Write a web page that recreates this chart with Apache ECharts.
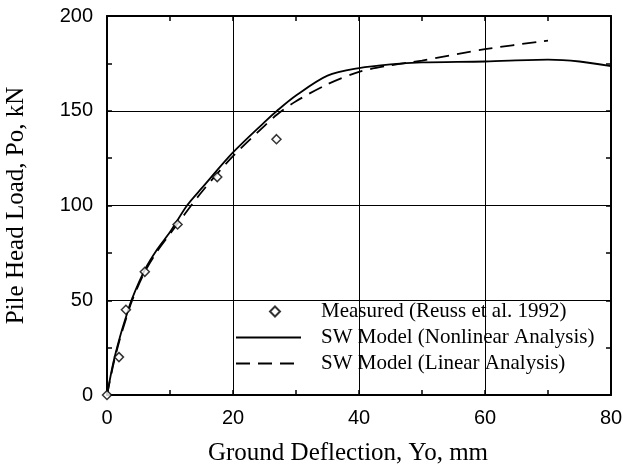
<!DOCTYPE html>
<html>
<head>
<meta charset="utf-8">
<script src="https://cdn.jsdelivr.net/npm/echarts@6/dist/echarts.min.js"></script>
<style>
  html, body { margin: 0; padding: 0; background: #fff; }
  #chart { width: 623px; height: 471px; }
</style>
</head>
<body>
<div id="chart"></div>
<script>
// measured points (Yo mm, Po kN)
var measuredX = [0, 1.9, 3.0, 6.0, 11.2, 17.5, 26.9];
var measuredY = [0, 20, 45, 65, 90, 115, 135];

// SW model, nonlinear analysis
var nonlinX = [0, 1, 2, 3, 4, 6, 8, 10, 12.7, 15, 20, 25, 27, 30, 35, 40, 45, 50, 60, 70, 75, 80];
var nonlinY = [0, 17, 30, 41, 51, 66, 77, 86, 100, 109, 128, 144, 150, 158, 168.5, 172.5, 174.5, 175.5, 176, 177, 176, 173.5];

// SW model, linear analysis
var linX = [0, 1, 2, 3, 4, 6, 8, 10, 15, 20, 25, 27, 30, 35, 40, 45, 48, 50, 60, 70];
var linY = [0, 16, 29, 40, 50, 65, 76, 85, 107, 126, 142, 148, 155, 164, 170.5, 174, 175.5, 176.5, 182.5, 187];

var zip = function (xs, ys) {
    return xs.map(function (x, i) { return [x, ys[i]]; });
};

var serif = 'Liberation Serif';
var sans = 'Liberation Sans';

var chart = echarts.init(document.getElementById('chart'));

// frame axes on top / right: ticks only
var frameAxis = function (pos, max, interval) {
    return {
        type: 'value',
        position: pos,
        min: 0,
        max: max,
        interval: interval,
        axisLine: {show: true, onZero: false, lineStyle: {color: '#000', width: 2}},
        axisTick: {show: true, inside: true, length: 5, lineStyle: {color: '#000', width: 1.5}},
        minorTick: {show: true, splitNumber: 2, length: 5, lineStyle: {color: '#000', width: 1.5}},
        axisLabel: {show: false},
        splitLine: {show: false}
    };
};

chart.setOption({
    backgroundColor: '#fff',
    animation: false,
    grid: {left: 107, right: 12, top: 16, bottom: 76, containLabel: false, outerBoundsMode: 'none'},
    legend: {
        orient: 'vertical',
        left: 230,
        top: 296,
        itemWidth: 65,
        itemHeight: 14,
        itemGap: 5,
        textStyle: {fontFamily: serif, fontSize: 21, color: '#000', padding: [0, 0, 0, 15]},
        data: [
            {name: 'Measured (Reuss et al. 1992)', icon: 'path://M0,0M65,14M39,2L44,7L39,12L34,7Z'},
            {name: 'SW Model (Nonlinear Analysis)', itemStyle: {opacity: 0}},
            {name: 'SW Model (Linear Analysis)', itemStyle: {opacity: 0}}
        ]
    },
    xAxis: [{
        type: 'value',
        min: 0,
        max: 80,
        interval: 20,
        name: 'Ground Deflection, Yo, mm',
        nameLocation: 'middle',
        nameGap: 46,
        nameTextStyle: {fontFamily: serif, fontSize: 25, color: '#000', padding: [0, 22, 0, 0]},
        axisLine: {show: true, onZero: false, lineStyle: {color: '#000', width: 2}},
        axisTick: {show: true, inside: true, length: 5, lineStyle: {color: '#000', width: 1.5}},
        minorTick: {show: true, splitNumber: 2, length: 5, lineStyle: {color: '#000', width: 1.5}},
        axisLabel: {fontFamily: sans, fontSize: 20, color: '#000', margin: 13},
        splitLine: {show: true, lineStyle: {color: '#000', width: 1}}
    }, frameAxis('top', 80, 20)],
    yAxis: [{
        type: 'value',
        min: 0,
        max: 200,
        interval: 50,
        name: 'Pile Head Load, Po, kN',
        nameLocation: 'middle',
        nameGap: 78,
        nameTextStyle: {fontFamily: serif, fontSize: 25, color: '#000'},
        axisLine: {show: true, onZero: false, lineStyle: {color: '#000', width: 2}},
        axisTick: {show: true, inside: true, length: 5, lineStyle: {color: '#000', width: 1.5}},
        minorTick: {show: true, splitNumber: 2, length: 5, lineStyle: {color: '#000', width: 1.5}},
        axisLabel: {fontFamily: sans, fontSize: 20, color: '#000', margin: 14},
        splitLine: {show: true, lineStyle: {color: '#000', width: 1}}
    }, frameAxis('right', 200, 50)],
    series: [{
        name: 'Measured (Reuss et al. 1992)',
        type: 'scatter',
        symbol: 'diamond',
        symbolSize: [9, 9],
        z: 5,
        itemStyle: {color: '#fff', borderColor: '#000', borderWidth: 1.5},
        data: zip(measuredX, measuredY)
    }, {
        name: 'SW Model (Nonlinear Analysis)',
        type: 'line',
        smooth: 0.3,
        showSymbol: false,
        symbol: 'none',
        itemStyle: {color: '#000'},
        lineStyle: {color: '#000', width: 1.8},
        data: zip(nonlinX, nonlinY)
    }, {
        name: 'SW Model (Linear Analysis)',
        type: 'line',
        smooth: 0.3,
        showSymbol: false,
        symbol: 'none',
        itemStyle: {color: '#000'},
        lineStyle: {color: '#000', width: 1.8, type: [14, 8]},
        data: zip(linX, linY)
    }]
});
</script>
</body>
</html>
